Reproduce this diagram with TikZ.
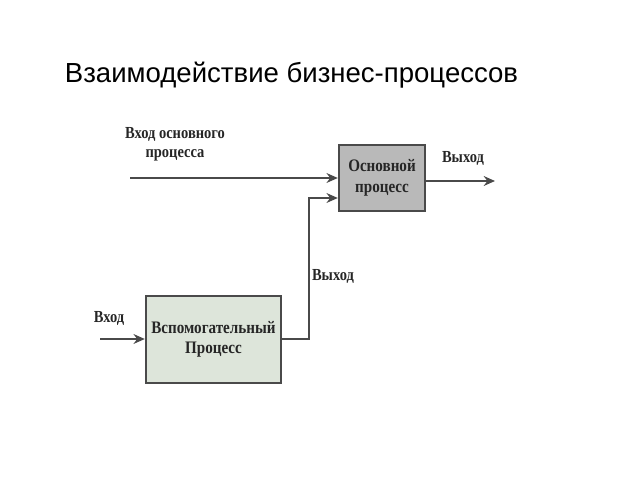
\documentclass[tikz,border=0pt]{standalone}
\usepackage{fontspec}
\setmainfont{Liberation Serif}
\newfontfamily\titlefont{Liberation Sans}
\newfontfamily\condfont[FakeStretch=0.86]{Liberation Serif}
\usetikzlibrary{arrows.meta}

\definecolor{linegray}{HTML}{4A4A4A}
\definecolor{mainfill}{HTML}{B9B9B9}
\definecolor{auxfill}{HTML}{DDE5DA}

\tikzset{
  procbox/.style={draw=linegray, line width=1.7pt, align=center,
    font=\condfont\bfseries\fontsize{12.5}{14.5}\selectfont, text=black!85},
  mainbox/.style={procbox, fill=mainfill, minimum width=2.15cm, minimum height=1.65cm},
  auxbox/.style={procbox, fill=auxfill, minimum width=3.375cm, minimum height=2.175cm},
  flow/.style={draw=linegray, line width=1.7pt},
  arr/.style={flow, -{Stealth[length=8pt,width=7pt]}},
  lbl/.style={align=center, font=\condfont\bfseries\fontsize{12}{13.5}\selectfont, text=black!85}
}

\begin{document}
\begin{tikzpicture}[x=0.025cm, y=-0.025cm]
  \useasboundingbox (0,0) rectangle (640,480);

  % title
  \node[anchor=base west, font=\titlefont\fontsize{19.6}{23}\selectfont] (title) at (60,82)
    {Взаимодействие бизнес-процессов};

  % processes
  \node[mainbox] (osn) at (382,178) {Основной\\процесс};
  \node[auxbox] (vsp) at (213.5,339.5) {Вспомогательный\\Процесс};

  % free ends
  \coordinate (in1) at (130,178);
  \coordinate (out1) at (495,181);
  \coordinate (in2) at (100,339);
  \coordinate (bend) at (309,339);
  \coordinate (join) at (309,198);

  % main flow
  \draw[arr] (in1) -- (in1 -| osn.west);
  \draw[arr] (out1 -| osn.east) -- (out1);
  \draw[arr] (in2) -- (in2 -| vsp.west);
  \draw[arr] (bend -| vsp.east) -- (bend) -- (join) -- (join -| osn.west);

  % labels
  \node[lbl] (lin1) at (175,144) {Вход основного\\процесса};
  \node[lbl] (lout1) at (463,158) {Выход};
  \node[lbl] (lin2) at (109,318) {Вход};
  \node[lbl] (lout2) at (333,276) {Выход};
\end{tikzpicture}
\end{document}
